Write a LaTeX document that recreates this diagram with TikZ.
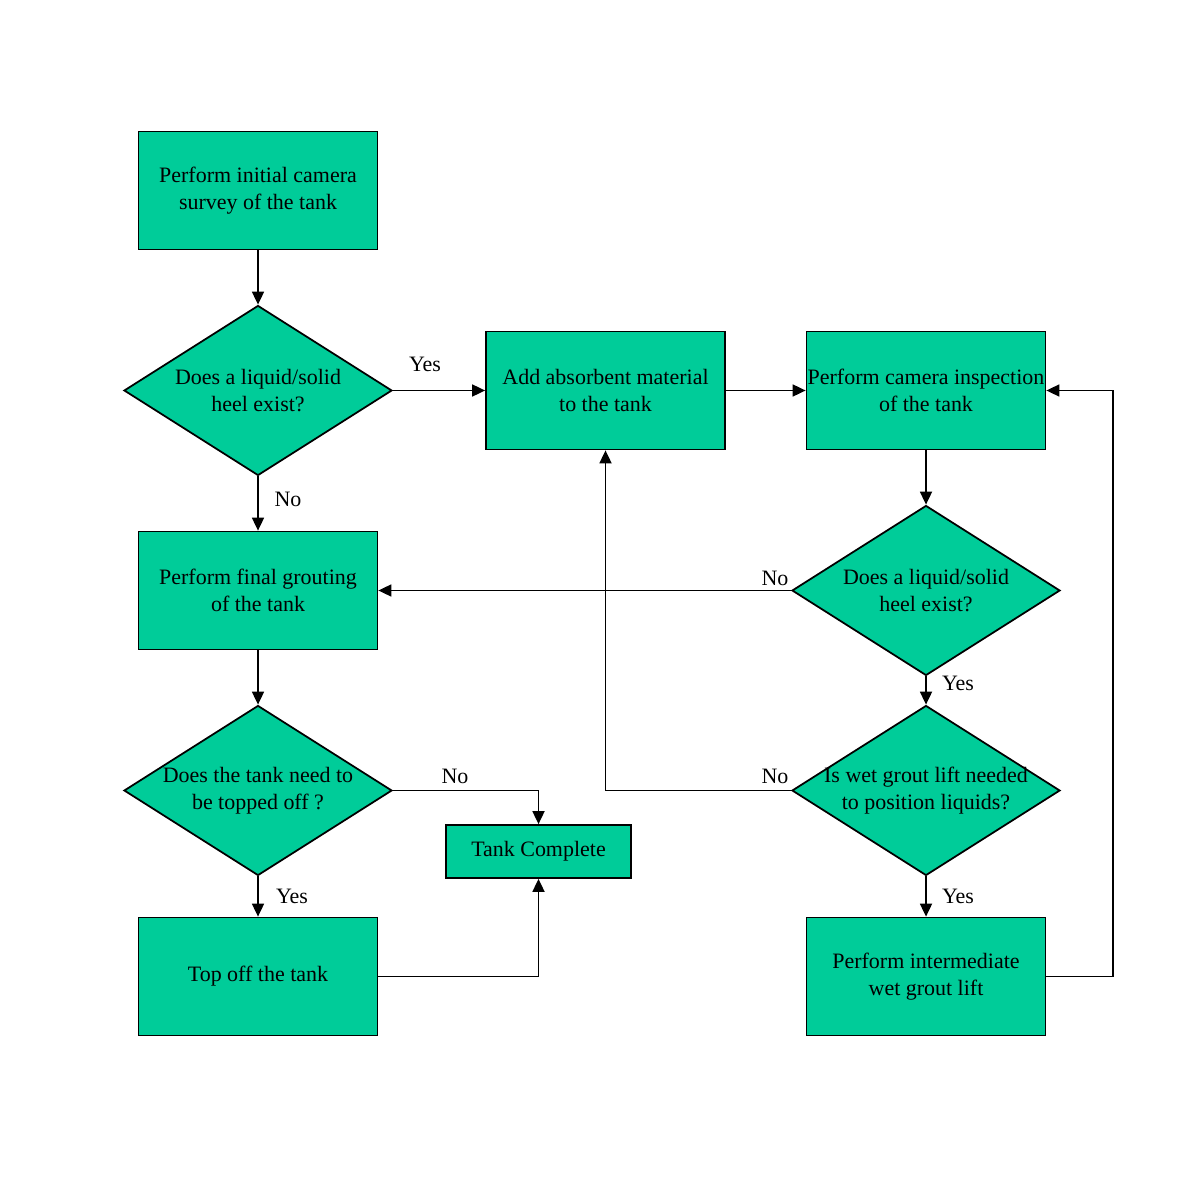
\documentclass[tikz,border=0pt]{standalone}
\usepackage{fontspec}
\setmainfont{Liberation Serif}
\usepackage{tikz}
\usetikzlibrary{shapes.geometric,arrows.meta}
\definecolor{tankgreen}{RGB}{0,204,153}
\tikzstyle{arrow} = [line width=1pt,-{Triangle[length=2.6mm,width=2.4mm]}]
\tikzstyle{stepbox} = [draw, line width=1pt, fill=tankgreen, inner xsep=0pt, minimum width=4.78cm, minimum height=2.36cm, align=center]
\tikzstyle{decision} = [draw, line width=1pt, fill=tankgreen, diamond, aspect=1.58, inner ysep=0pt, inner xsep=-4mm, minimum width=5.36cm, minimum height=3.4cm, align=center]
\tikzstyle{lbl} = [inner sep=1pt]

\begin{document}
\begin{tikzpicture}[node distance=4cm, font=\fontsize{12.5}{15.3}\selectfont]
  \useasboundingbox (0,0) rectangle (24,-24);
  % left column
  \node[stepbox] (survey) at (5.16,-3.81) {Perform initial camera\\survey of the tank};
  \node[decision, below of=survey] (heel1) {Does a liquid/solid\\heel exist?};
  \node[stepbox, below of=heel1] (grout) {Perform final grouting\\of the tank};
  \node[decision, below of=grout] (topq) {Does the tank need to\\be topped off ?};
  \node[stepbox, below of=topq, node distance=3.72cm] (topoff) {Top off the tank};
  % right column
  \node[stepbox, right of=heel1, node distance=6.95cm] (absorb) {Add absorbent material\\to the tank};
  \node[stepbox, right of=absorb, node distance=6.41cm] (inspect) {Perform camera inspection\\of the tank};
  \node[decision, below of=inspect] (heel2) {Does a liquid/solid\\heel exist?};
  \node[decision, below of=heel2] (wetq) {Is wet grout lift needed\\to position liquids?};
  \node[stepbox, below of=wetq, node distance=3.72cm] (wetlift) {Perform intermediate\\wet grout lift};
  \node[draw, line width=1pt, fill=tankgreen, minimum width=3.7cm, minimum height=1.06cm] (done) at (10.77,-17.03) {Tank Complete};
  \coordinate (loop) at (22.26,-12);
  % connectors
  \draw[arrow] (survey) -- (heel1);
  \draw[arrow] (heel1) -- (absorb);
  \draw[arrow] (heel1) -- (grout);
  \draw[arrow] (absorb) -- (inspect);
  \draw[arrow] (inspect) -- (heel2);
  \draw[arrow] (heel2.west) -- (heel2.west -| grout.east);
  \draw[arrow] (heel2) -- (wetq);
  \draw[arrow] (wetq.west) -| (absorb.south);
  \draw[arrow] (wetq) -- (wetlift);
  \draw[arrow] (wetlift.east) -| (loop) |- (inspect.east);
  \draw[arrow] (grout) -- (topq);
  \draw[arrow] (topq.east) -| (done.north);
  \draw[arrow] (topq) -- (topoff);
  \draw[arrow] (topoff.east) -| (done.south);
  % labels
  \node[lbl] (yes1) at (8.5,-7.28) {Yes};
  \node[lbl] (no1) at (5.76,-9.98) {No};
  \node[lbl] (no2) at (15.5,-11.56) {No};
  \node[lbl] (yes2) at (19.16,-13.66) {Yes};
  \node[lbl] (no3) at (9.1,-15.52) {No};
  \node[lbl] (no4) at (15.5,-15.52) {No};
  \node[lbl] (yes3) at (5.84,-17.92) {Yes};
  \node[lbl] (yes4) at (19.16,-17.92) {Yes};
\end{tikzpicture}
\end{document}
